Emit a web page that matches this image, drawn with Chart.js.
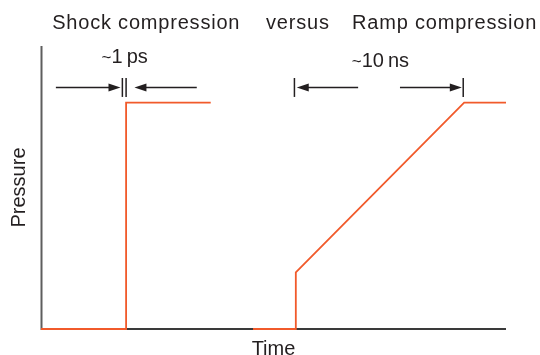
<!DOCTYPE html>
<html>
<head>
<meta charset="utf-8">
<script src="https://cdn.jsdelivr.net/npm/chart.js@4/dist/chart.umd.min.js"></script>
<style>
  html, body { margin: 0; padding: 0; background: #ffffff; }
  #wrap { width: 540px; height: 355px; position: relative; }
</style>
</head>
<body>
<div id="wrap"><canvas id="c" width="540" height="355"></canvas></div>
<script>
// Time axis runs 0..100 (arbitrary units), pressure 0..100 (arbitrary units)
const shockTime     = [0, 18.3, 18.3, 36.5];
const shockPressure = [0, 0, 80, 80];

const rampTime      = [45.6, 54.8, 54.8, 91, 100];
const rampPressure  = [0, 0, 20, 80, 80];

// Duration markers drawn above each profile (time positions in axis units)
const shockSpan = { approx: '~', label: '1\u2009ps', left: 17.5, right: 18.3 };
const rampSpan  = { approx: '~', label: '10\u2009ns', left: 54.5, right: 90.8 };

const headings = ['Shock compression', 'versus', 'Ramp compression'];
const xTitle = 'Time';
const yTitle = 'Pressure';

const ORANGE = '#f15a2b';
const INK = '#231f20';
const FONT = '"Liberation Sans", Arial, Helvetica, sans-serif';

const toPoints = (xs, ys) => xs.map((x, i) => ({ x, y: ys[i] }));

function arrow(ctx, x0, x1, y) {
  // shaft from x0 to x1, filled head at x1
  const dir = Math.sign(x1 - x0);
  const headLen = 12, headHalf = 4;
  ctx.beginPath();
  ctx.moveTo(x0, y);
  ctx.lineTo(x1 - dir * headLen + dir * 1, y);
  ctx.stroke();
  ctx.beginPath();
  ctx.moveTo(x1, y);
  ctx.lineTo(x1 - dir * headLen, y - headHalf);
  ctx.lineTo(x1 - dir * headLen, y + headHalf);
  ctx.closePath();
  ctx.fill();
}

function bar(ctx, x, yTop, yBot) {
  ctx.beginPath();
  ctx.moveTo(x, yTop);
  ctx.lineTo(x, yBot);
  ctx.stroke();
}

// slightly smaller tilde followed by the value, centred on cx
function spanLabel(ctx, span, cx, baseline) {
  const small = '17px ' + FONT, big = '20px ' + FONT;
  ctx.font = small;
  const wT = ctx.measureText(span.approx).width;
  ctx.font = big;
  const wL = ctx.measureText(span.label).width;
  const x0 = cx - (wT + wL) / 2;
  ctx.textAlign = 'left';
  ctx.font = small;
  ctx.fillText(span.approx, x0, baseline);
  ctx.font = big;
  ctx.fillText(span.label, x0 + wT, baseline);
}

const axesPlugin = {
  id: 'axesLines',
  beforeDatasetsDraw(chart) {
    const { ctx, chartArea: a } = chart;
    ctx.save();
    ctx.lineWidth = 2;
    ctx.strokeStyle = '#5e5e5e';
    ctx.beginPath();
    ctx.moveTo(a.left + 0.5, a.top);
    ctx.lineTo(a.left + 0.5, a.bottom + 1);
    ctx.stroke();
    ctx.strokeStyle = '#3a3a3a';
    ctx.beginPath();
    ctx.moveTo(a.left, a.bottom);
    ctx.lineTo(a.right, a.bottom);
    ctx.stroke();
    ctx.restore();
  }
};

const notesPlugin = {
  id: 'notes',
  afterDatasetsDraw(chart) {
    const { ctx, chartArea: a } = chart;
    const xs = chart.scales.x, ys = chart.scales.y;
    const px = v => xs.getPixelForValue(v);
    const py = v => ys.getPixelForValue(v);
    ctx.save();
    ctx.fillStyle = INK;
    ctx.strokeStyle = INK;
    ctx.font = '20px ' + FONT;
    ctx.textBaseline = 'alphabetic';

    // headings along the top
    ctx.letterSpacing = '0.8px';
    ctx.textAlign = 'left';
    ctx.fillText(headings[0], px(2.4), 29);
    ctx.fillText(headings[1], px(48.4), 29);
    ctx.fillText(headings[2], px(66.9), 29);
    ctx.letterSpacing = '0px';

    // axis titles
    ctx.textAlign = 'center';
    ctx.fillText(xTitle, (a.left + a.right) / 2, 355);
    ctx.save();
    ctx.translate(25, (a.top + a.bottom) / 2);
    ctx.rotate(-Math.PI / 2);
    ctx.fillText(yTitle, 0, 0);
    ctx.restore();

    // duration markers
    const yArrow = py(85.3), yBarTop = py(88.7), yBarBot = py(82.0);
    ctx.lineWidth = 1.5;

    // shock: two close bars with arrows pointing inward
    bar(ctx, px(shockSpan.left), yBarTop, yBarBot);
    bar(ctx, px(shockSpan.right), yBarTop, yBarBot);
    arrow(ctx, px(3.2), px(17.1), yArrow);
    arrow(ctx, px(33.5), px(20.1), yArrow);
    spanLabel(ctx, shockSpan, px(18.0), py(94.0));

    // ramp: bars at both ends with arrows pointing outward
    bar(ctx, px(rampSpan.left), yBarTop, yBarBot);
    bar(ctx, px(rampSpan.right), yBarTop, yBarBot);
    arrow(ctx, px(68.2), px(55.0), yArrow);
    arrow(ctx, px(77.2), px(90.5), yArrow);
    spanLabel(ctx, rampSpan, px(73.0), py(92.6));

    ctx.restore();
  }
};

new Chart(document.getElementById('c'), {
  type: 'line',
  data: {
    datasets: [
      { data: toPoints(shockTime, shockPressure) },
      { data: toPoints(rampTime, rampPressure) }
    ]
  },
  options: {
    responsive: false,
    animation: false,
    devicePixelRatio: 1,
    layout: { padding: { left: 41, top: 46, right: 34, bottom: 26 } },
    elements: {
      line: { borderColor: ORANGE, borderWidth: 1.8, tension: 0, fill: false, borderJoinStyle: 'miter', borderCapStyle: 'butt' },
      point: { radius: 0, hoverRadius: 0 }
    },
    datasets: { line: { clip: false } },
    scales: {
      x: { type: 'linear', min: 0, max: 100, display: false },
      y: { type: 'linear', min: 0, max: 100, display: false }
    },
    plugins: {
      legend: { display: false },
      title: { display: false },
      tooltip: { enabled: false }
    }
  },
  plugins: [axesPlugin, notesPlugin]
});
</script>
</body>
</html>
